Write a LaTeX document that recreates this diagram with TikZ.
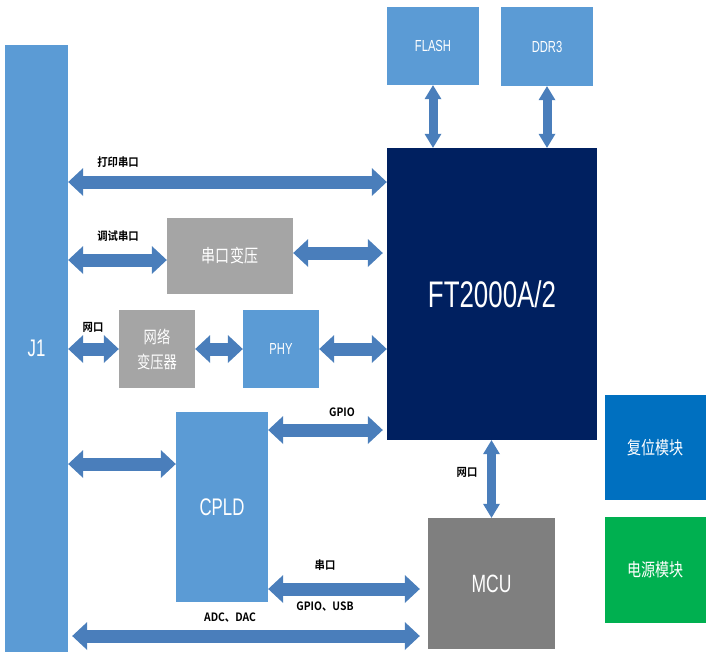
\documentclass[tikz,border=0pt]{standalone}
\usepackage{fontspec}
\usetikzlibrary{arrows.meta}
\newfontfamily\latf[FakeStretch=0.7]{Liberation Sans}
\newfontfamily\cjkf[FakeStretch=0.78]{Noto Sans CJK SC}
\newfontfamily\lblf[FakeStretch=0.9]{Noto Sans CJK SC Bold}
\definecolor{midblue}{HTML}{5B9BD5}
\definecolor{navyblue}{HTML}{002060}
\definecolor{lgray}{HTML}{A5A5A5}
\definecolor{dgray}{HTML}{7F7F7F}
\definecolor{rblue}{HTML}{0070C0}
\definecolor{pgreen}{HTML}{00B050}
\definecolor{arrblue}{HTML}{4A7EBB}
\tikzset{
  box/.style={rectangle, inner sep=0pt, text=white, align=center},
  bigtip/.tip={Triangle[width=28pt 0 0, length=15pt 0 0, line width=0pt 0 0]},
  smalltip/.tip={Triangle[width=17pt 0 0, length=14pt 0 0, line width=0pt 0 0]},
  bus/.style={draw=arrblue, line width=13pt, bigtip-bigtip},
  vbus/.style={draw=arrblue, line width=9pt, smalltip-smalltip},
  lbl/.style={font=\lblf\fontsize{11.5}{12}\selectfont, inner sep=0pt, text=black}
}
\begin{document}
\begin{tikzpicture}[x=1pt, y=-1pt]
\useasboundingbox (0,0) rectangle (713,664);
% boxes
\node[box, fill=midblue, minimum width=63pt, minimum height=607pt, font=\latf\fontsize{24}{24}\selectfont] (j1) at (36.5,348.5) {J1};
\node[box, fill=midblue, minimum width=92pt, minimum height=78pt, font=\latf\fontsize{16}{16}\selectfont] (flash) at (433,46) {FLASH};
\node[box, fill=midblue, minimum width=92pt, minimum height=79pt, font=\latf\fontsize{16}{16}\selectfont] (ddr) at (547,46.5) {DDR3};
\node[box, fill=navyblue, minimum width=210pt, minimum height=292pt, font=\latf\fontsize{37}{37}\selectfont] (ft) at (492,294) {FT2000A/2};
\node[box, fill=lgray, minimum width=126pt, minimum height=76pt, font=\cjkf\fontsize{18}{18}\selectfont] (sk) at (230,256) {串口变压};
\node[box, fill=lgray, minimum width=76pt, minimum height=78pt, font=\cjkf\fontsize{17}{25}\selectfont] (wl) at (157,349) {网络\\变压器};
\node[box, fill=midblue, minimum width=76pt, minimum height=78pt, font=\latf\fontsize{16}{16}\selectfont] (phy) at (281,349) {PHY};
\node[box, fill=midblue, minimum width=92pt, minimum height=190pt, font=\latf\fontsize{24}{24}\selectfont] (cpld) at (222,507) {CPLD};
\node[box, fill=dgray, minimum width=127pt, minimum height=131pt, font=\latf\fontsize{25}{25}\selectfont] (mcu) at (491.5,583.5) {MCU};
\node[box, fill=rblue, minimum width=101pt, minimum height=105pt, font=\cjkf\fontsize{18}{18}\selectfont] (rst) at (655.5,447.5) {复位模块};
\node[box, fill=pgreen, minimum width=101pt, minimum height=106pt, font=\cjkf\fontsize{18}{18}\selectfont] (pwr) at (655.5,570) {电源模块};
% helper coordinates
\coordinate (ftin) at ([xshift=-4pt]ft.west);
\coordinate (mcuin) at ([xshift=-8pt]mcu.west);
\coordinate (j1out) at ([xshift=4pt]j1.east);
% connectors
\draw[vbus] (flash.south) -- (flash.south |- ft.north);
\draw[vbus] (ddr.south) -- (ddr.south |- ft.north);
\draw[bus] (j1.east |- 0,182) -- (ft.west |- 0,182);
\draw[bus] (j1.east |- 0,260) -- (sk.west |- 0,260);
\draw[bus] (sk.east |- 0,253) -- (ftin |- 0,253);
\draw[bus] (j1.east |- wl.west) -- (wl.west);
\draw[bus] (wl.east) -- (phy.west);
\draw[bus] (phy.east) -- (phy.east -| ft.west);
\draw[bus] (j1.east |- 0,464) -- (cpld.west |- 0,464);
\draw[bus] (cpld.east |- 0,430) -- (ftin |- 0,430);
\draw[vbus] (ft.south -| mcu.north) -- (mcu.north);
\draw[bus] (cpld.east |- 0,589) -- (mcuin |- 0,589);
\draw[bus] (j1out |- 0,636) -- (mcuin |- 0,636);
% labels
\node[lbl] (l1) at (118,162) {打印串口};
\node[lbl] (l2) at (118,236) {调试串口};
\node[lbl] (l3) at (93,327) {网口};
\node[lbl] (l4) at (342,412) {GPIO};
\node[lbl] (l5) at (467,472) {网口};
\node[lbl] (l6) at (325,565) {串口};
\node[lbl] (l7) at (325,607) {GPIO、USB};
\node[lbl] (l8) at (230,618) {ADC、DAC};
\end{tikzpicture}
\end{document}
